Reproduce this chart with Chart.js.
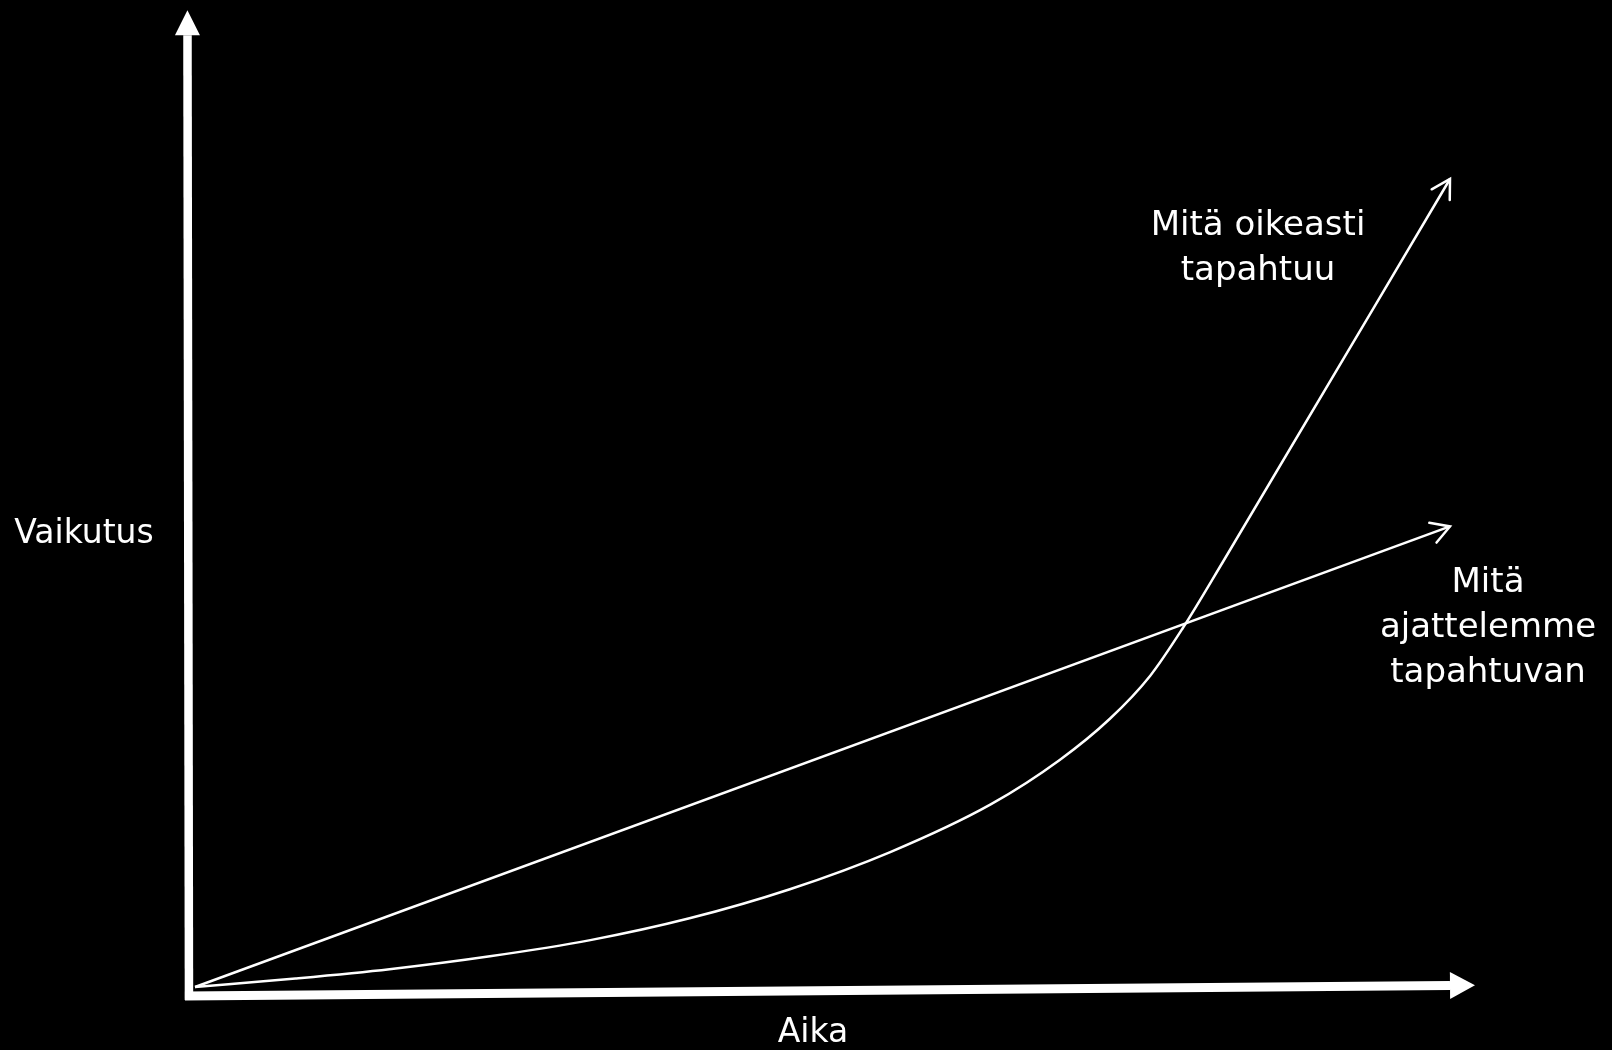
<!DOCTYPE html>
<html>
<head>
<meta charset="utf-8">
<script src="https://cdn.jsdelivr.net/npm/chart.js@4/dist/chart.umd.min.js"></script>
<style>
  html, body { margin: 0; padding: 0; background: #000; overflow: hidden; }
  #wrap { width: 1612px; height: 1050px; }
</style>
</head>
<body>
<div id="wrap"><canvas id="c" width="1612" height="1050"></canvas></div>
<script>
// ---- data (time on x, impact on y; origin of both curves at 0,0) ----
const expectedTime   = [0, 100];
const expectedImpact = [0, 57];

const actualTime   = [0, 8.0, 15.5, 23.5, 31.5, 39.4, 47.4, 55.4, 63.4, 68.9, 72.9, 76.1, 78.7, 81.9, 100];
const actualImpact = [0, 1.05, 2.2, 3.8, 5.8, 8.5, 12.1, 16.7, 22.6, 28.1, 33.2, 38.5, 44.4, 52.6, 100];

// axis arrows (drawn as datasets)
const yAxisTime   = [-0.48, -0.60];
const yAxisImpact = [-1.61, 117.8];
const xAxisTime   = [-0.80, 100.0];
const xAxisImpact = [-1.11, 0.19];

// texts
const yAxisTitle = 'Vaikutus';
const xAxisTitle = 'Aika';
const actualLabel = ['Mitä oikeasti', 'tapahtuu'];
const expectedLabel = ['Mitä', 'ajattelemme', 'tapahtuvan'];

const pts = (xs, ys) => xs.map((x, i) => ({ x, y: ys[i] }));

const arrowPlugin = {
  id: 'arrows',
  afterDatasetsDraw(chart) {
    const ctx = chart.ctx;
    chart.data.datasets.forEach((ds, i) => {
      if (!ds.arrow) return;
      const meta = chart.getDatasetMeta(i);
      const n = meta.data.length;
      const p1 = meta.data[n - 2], p2 = meta.data[n - 1];
      const ang = Math.atan2(p2.y - p1.y, p2.x - p1.x);
      ctx.save();
      ctx.fillStyle = '#fff';
      ctx.strokeStyle = '#fff';
      if (ds.arrow === 'filled') {
        const L = ds.headLen, W = ds.headHalf;
        const cos = Math.cos(ang), sin = Math.sin(ang);
        ctx.beginPath();
        ctx.moveTo(p2.x + cos * L, p2.y + sin * L);
        ctx.lineTo(p2.x - sin * W, p2.y + cos * W);
        ctx.lineTo(p2.x + sin * W, p2.y - cos * W);
        ctx.closePath();
        ctx.fill();
      } else {
        const L = 21, a = Math.PI / 6;
        ctx.lineWidth = ds.borderWidth;
        ctx.lineCap = 'round';
        ctx.lineJoin = 'miter';
        ctx.beginPath();
        ctx.moveTo(p2.x - L * Math.cos(ang - a), p2.y - L * Math.sin(ang - a));
        ctx.lineTo(p2.x, p2.y);
        ctx.lineTo(p2.x - L * Math.cos(ang + a), p2.y - L * Math.sin(ang + a));
        ctx.stroke();
      }
      ctx.restore();
    });
  }
};

const textPlugin = {
  id: 'texts',
  afterDraw(chart) {
    const ctx = chart.ctx;
    ctx.save();
    ctx.fillStyle = '#fff';
    ctx.textAlign = 'center';
    ctx.textBaseline = 'alphabetic';
    ctx.font = '33px "DejaVu Sans"';
    ctx.fillText(yAxisTitle, 84, 543);
    ctx.fillText(xAxisTitle, 813, 1042);
    ctx.font = '34px "DejaVu Sans"';
    actualLabel.forEach((t, i) => ctx.fillText(t, 1258, 235 + i * 45));
    expectedLabel.forEach((t, i) => ctx.fillText(t, 1488, 592 + i * 45));
    ctx.restore();
  }
};

const base = { showLine: true, pointRadius: 0, borderColor: '#fff', backgroundColor: '#fff', fill: false, clip: false };

new Chart(document.getElementById('c'), {
  type: 'scatter',
  data: {
    datasets: [
      { ...base, label: 'y-akseli', data: pts(yAxisTime, yAxisImpact), borderWidth: 8.5, borderCapStyle: 'butt', arrow: 'filled', headLen: 25, headHalf: 12.5 },
      { ...base, label: 'x-akseli', data: pts(xAxisTime, xAxisImpact), borderWidth: 9, borderCapStyle: 'butt', arrow: 'filled', headLen: 25, headHalf: 13.5 },
      { ...base, label: 'Mitä ajattelemme tapahtuvan', data: pts(expectedTime, expectedImpact), borderWidth: 2.5, arrow: 'open' },
      { ...base, label: 'Mitä oikeasti tapahtuu', data: pts(actualTime, actualImpact), borderWidth: 2.5, cubicInterpolationMode: 'monotone', arrow: 'open' }
    ]
  },
  options: {
    responsive: false,
    animation: false,
    devicePixelRatio: 1,
    layout: { padding: 0 },
    plugins: { legend: { display: false }, tooltip: { enabled: false } },
    scales: {
      x: { type: 'linear', display: false, min: -195 / 12.55, max: (1612 - 195) / 12.55 },
      y: { type: 'linear', display: false, min: -(1050 - 987) / 8.08, max: 987 / 8.08 }
    }
  },
  plugins: [arrowPlugin, textPlugin]
});
</script>
</body>
</html>
